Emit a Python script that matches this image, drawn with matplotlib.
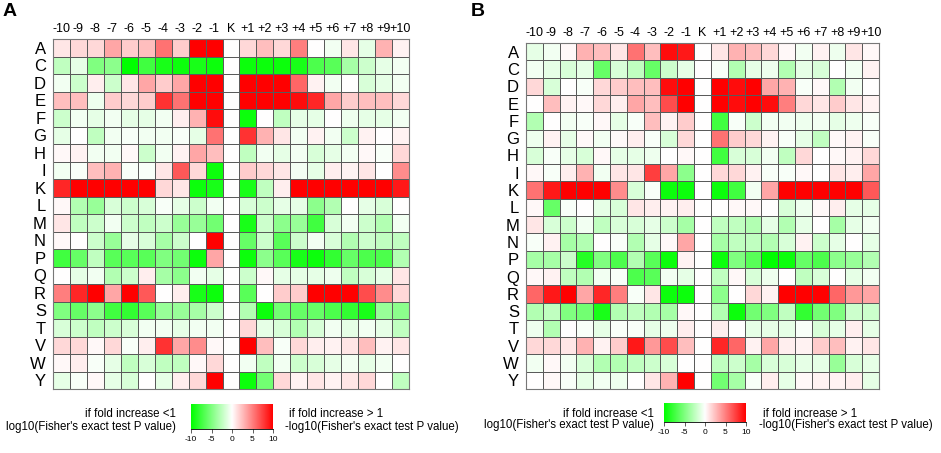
import numpy as np
import matplotlib
matplotlib.use("Agg")
import matplotlib.pyplot as plt
from matplotlib.colors import LinearSegmentedColormap

plt.rcParams['font.family'] = ['Liberation Sans', 'DejaVu Sans']
plt.rcParams['axes.unicode_minus'] = False

positions = ["-10", "-9", "-8", "-7", "-6", "-5", "-4", "-3", "-2", "-1", "K",
             "+1", "+2", "+3", "+4", "+5", "+6", "+7", "+8", "+9", "+10"]
residues = ["A", "C", "D", "E", "F", "G", "H", "I", "K", "L",
            "M", "N", "P", "Q", "R", "S", "T", "V", "W", "Y"]

# signed -log10(P): positive = enriched, negative = depleted
panel_a = [
    [1, 1.5, 1.5, 3.5, 2, 2.5, 5.5, 2, 10, 10, 0, 1.5, 2.5, 1.5, 5, 0, -0.5, 1, -1, 3, 0.5],
    [-2.5, -1, -5, -4.5, -10, -7.5, -9, -9.5, -9, -9.5, 0, -9.5, -9.5, -9.5, -9, -7, -6.5, -3.5, -2, -1, -0.5],
    [-0.5, -2, 0.7, -2, 1, 3.5, 2, 3.5, 10, 10, 0, 10, 10, 10, 6, 0.5, -0.5, 0, -1.5, -1, -0.5],
    [2.5, 2.5, -0.7, 2, 1.5, 2, 8, 5.5, 10, 10, 0, 10, 10, 10, 9.5, 8.5, 3.5, 2, 2.5, 2.5, 1.5],
    [-2, -0.5, -1, -0.5, -1, -1, -0.5, 0.7, 3, 9.5, 0, -9.5, 0, -2.5, -1, -1, 0, -0.7, -1, -1, -0.5],
    [-1, 0, -2.5, -0.5, -0.3, -0.5, -0.5, -0.3, -1, 5.5, 0, 8, 3, 1, -0.5, 0.5, -0.5, -2, 0.5, 0, 0.5],
    [0.3, 0.5, -0.5, -0.5, 0.3, -2, -0.5, 0.5, 3.5, 2.5, 0, -2.5, -0.5, -1, -0.5, -1.5, -1, -0.5, 0.3, -0.3, 1.5],
    [-0.5, -0.3, 2.5, 3, -0.3, -0.3, 1, 6.5, 1.5, -9.5, 0, 2, 1.5, 1, -0.5, -1, 0.7, 0.5, 1, 0, 4.5],
    [8.5, 10, 10, 10, 10, 10, 1.5, 1, -9.5, -9, 0, -9, -2.5, 0.7, 10, 10, 10, 10, 10, 10, 9],
    [0.3, -3, -4, -1.5, -2, -1.5, -0.3, -1, -2, -0.5, 0, -1.5, -2, -1, -1, -4.5, -3, 0, -1, -1.5, 0],
    [1, -2.5, -2, -0.5, -2, -2.5, -2, -4, -4, -5.5, 0, -9, -2, -4.5, -4, -7.5, -1.5, -0.5, -2, -3, -0.5],
    [0.3, 0, -2, -4, -1, -1.5, -3.5, -2, 0, 10, 0, -6, -2, -6.5, -2, -0.5, -1.5, -3, -2, -2.5, -2.5],
    [-7.5, -6, -2.5, -6.5, -6.5, -6.5, -5, -5.5, -9.5, 3.5, 0, -9.5, -4.5, -6.5, -9, -9.5, -8, -6, -7, -7, -3],
    [0, -1, -0.5, -3, -2, 0.7, -3.5, -4.5, -0.5, -1, 0, -2, 0.3, -1, -1, -1, -0.7, -2.5, -1.5, -1, 1],
    [5, 8.5, 10, 3.5, 10, 6.5, 0, 0.7, -9, -9.5, 0, -6.5, 0, 2, 2, 10, 10, 10, 7, 4.5, 1.5],
    [-5, -6, -4.5, -7.5, -8, -6.5, -4, -4, -3.5, -2, 0, -3, -9.5, -5.5, -6, -6, -7, -8, -9, -4, -4.5],
    [-1.5, -2, -2.5, -2, -1.5, -0.5, -0.5, -1, -0.5, -0.5, 0, 1.5, -1, -1.5, -3, -1.5, -0.5, -1, -0.5, -1, -2.5],
    [1.5, 1.5, 0.3, 1.5, -0.3, 0.7, 8, 3.5, 4.5, 0.3, 0, 10, 2.5, -0.3, 1.5, 0.7, 0.5, 1, 2.5, 0.5, 1],
    [0.3, 0.7, -0.3, -1, -2.5, -1.5, -2.5, -2.5, 0.3, 1.5, 0, -0.5, -2.5, -0.5, -2, -1.5, -1, -0.5, -1, -0.5, 0],
    [-1, -0.3, 0.3, -1, -1.5, 0, -1, 0.7, 1.5, 10, 0, -9.5, -5.5, 1.5, 0.5, 1, 0.5, 1, 1.5, 0, -2.5],
]

panel_b = [
    [-1, -0.5, 0.3, 3, 2.5, 1, 5.5, 2.5, 9.5, 9, 0, 1, 3, 2.5, 1.5, 0.3, -0.5, 0.5, -0.7, 1, 0.3],
    [-0.5, -1, -1.5, -1, -6, -1.5, -2.5, -6, -2, -1, 0, -0.3, -3, -1, -0.7, -3, -1, -1.5, 0, -0.5, 0.5],
    [1.5, -1.5, 0, -0.3, 1.5, 2, 2.5, 2.5, 9.5, 10, 0, 10, 9.5, 10, 3.5, 3, -0.3, 0.3, -3, -0.5, 0],
    [0, 2.5, 0.5, 0.3, 1.5, 0.7, 3.5, 2.5, 7, 10, 0, 10, 9.5, 10, 9.5, 5, 1.5, 1, 2, 1, 0.5],
    [-3, 0, -0.5, -0.3, 0.3, -1, -0.3, 2.5, 0.5, 2, 0, -7.5, -0.3, -2, -0.5, -0.5, -0.7, -0.5, -1, -0.7, -0.3],
    [-0.7, 0.5, -1, 0.3, -0.5, 0.3, 0.7, -0.3, -1.5, 1.5, 0, 5.5, 2, 1.5, 0.5, -0.3, -1, -2.5, 0.3, 0.5, -0.3],
    [-1.5, -0.3, -1, -1.5, 0.3, -1, -1, -0.7, 0, 0.3, 0, -7.5, -1.5, -1.5, -0.5, -2.5, 1.5, 0, 0.3, 0.5, 1.5],
    [0.3, -0.3, 0.7, 3, -0.5, 1, 1, 7.5, 3.5, -4.5, 0, 1.5, 1.5, 0.5, -0.3, -0.3, 0.3, 0, 1, 0.7, 3.5],
    [5.5, 9, 10, 10, 10, 4.5, -1.5, -0.3, -9.5, -9.5, 0, -9.5, -7.5, -0.5, 3.5, 10, 10, 10, 10, 10, 6.5],
    [0.3, -6, -0.3, 0, -1, -1.5, 1, 0.7, 0.5, 0.7, 0, 0, 0.3, 0.3, 0, -1.5, -0.7, 0.3, 0.7, -1, -1],
    [1, -1.5, -2, -0.5, -2.5, -1.5, -1.5, -1, -2, -3.5, 0, -2.5, -2.5, -3, -1, -3, -1, 0, -3.5, -1, -0.5],
    [-0.3, 0.5, -3.5, -3, 0, -0.3, -3, -1, 0.3, 3.5, 0, -3.5, -2.5, -2.5, -3, -1.5, 0.5, -2, -1, 0, -1],
    [-3.5, -3.5, -2, -8.5, -5, -7, -3, -6.5, -9.5, 0.5, 0, -9.5, -5, -6.5, -10, -9.5, -6, -7, -4.5, -4, -3],
    [0.3, 0.5, -2.5, -3, -0.5, -0.3, -7, -6.5, -0.5, -1, 0, -2.5, 0.3, -1.5, -0.7, 0, -2.5, -1.5, 0, -1, -0.5],
    [6, 9, 10, 3.5, 8.5, 5, -0.3, 1, -9.5, -9.5, 0, -4.5, 0, 1.5, 0.5, 10, 10, 10, 6, 4, 3.5],
    [-3, -2.5, -5, -5.5, -9, -3, -2.5, -3, -3.5, 0.3, 0, -3, -9.5, -5.5, -5, -2.5, -8, -5.5, -5, -2, -2],
    [-0.7, -3, 0, -0.3, -1, -0.3, -0.3, -1, -0.7, 0.7, 0, 0.7, 0, -1, -1, -1, -0.3, -1.5, -1, 0.7, -1],
    [1.5, 1.5, 1, 3, 0.5, 2, 9, 4, 7, 2.5, 0, 8.5, 6, 0.5, 3.5, 0.7, 0.5, 2, 2.5, 0.5, 1],
    [-0.5, 0.3, -0.5, -1.5, -3, -3, -2.5, -2, -1.5, 0, 0, -2.5, -2, -3.5, -1.5, -1.5, -1, -1, -4, -1.5, -1],
    [0, 0.3, -0.3, -1, -0.5, -0.7, 0, 1, 3, 10, 0, -5.5, -3.5, -0.3, 0.7, -1, 0.3, 0.5, 0.5, 0.7, -1],
]

cmap = LinearSegmentedColormap.from_list("gwr", ["#00ff00", "#ffffff", "#ff0000"])
W, H = 941, 453


def box(x0, y0, x1, y1):
    # pixel box (top-left origin) -> figure fraction
    return [x0 / W, 1 - y1 / H, (x1 - x0) / W, (y1 - y0) / H]


def heat(fig, rect, data):
    ax = fig.add_axes(rect)
    vals = np.array(data, dtype=float)
    ax.pcolormesh(vals, cmap=cmap, vmin=-10, vmax=10,
                  edgecolors="#5a5a5a", linewidth=0.6)
    ax.set_xlim(0, len(positions))
    ax.set_ylim(len(residues), 0)
    ax.xaxis.tick_top()
    ax.set_xticks(np.arange(len(positions)) + 0.5)
    ax.set_xticklabels(positions, fontsize=9)
    ax.set_yticks(np.arange(len(residues)) + 0.5)
    ax.set_yticklabels(residues, fontsize=12)
    ax.tick_params(axis="x", length=0, pad=3)
    ax.tick_params(axis="y", length=0, pad=5)
    for s in ax.spines.values():
        s.set_color("#777777")
        s.set_linewidth(0.8)
    return ax


def legend(fig, cb_rect, tx):
    cax = fig.add_axes(cb_rect)
    grad = np.linspace(-10, 10, 256).reshape(1, -1)
    cax.imshow(grad, cmap=cmap, aspect="auto", extent=[-10, 10, 0, 1])
    cax.set_yticks([])
    cax.set_xticks([-10, -5, 0, 5, 10])
    cax.tick_params(axis="x", labelsize=6, length=3, width=0.6, color="#444444", pad=2)
    for k in ["top", "left", "right"]:
        cax.spines[k].set_visible(False)
    cax.spines["bottom"].set_linewidth(0.6)
    l, r, y1, y2 = tx
    fs = 8.3
    fig.text(l / W, 1 - y1 / H, "if fold increase <1", ha="right", va="center", fontsize=fs)
    fig.text(l / W, 1 - y2 / H, "log10(Fisher's exact test P value)", ha="right", va="center", fontsize=fs)
    fig.text(r / W, 1 - y1 / H, "if fold increase > 1", ha="left", va="center", fontsize=fs)
    fig.text((r - 4) / W, 1 - y2 / H, "-log10(Fisher's exact test P value)", ha="left", va="center", fontsize=fs)


fig = plt.figure(figsize=(W / 100, H / 100), dpi=100)

heat(fig, box(53, 39, 409, 389), panel_a)
heat(fig, box(526, 43, 879, 389), panel_b)

legend(fig, box(191, 404, 273, 429), (176, 289, 414, 427))
legend(fig, box(664, 403, 746, 422), (654, 763, 414, 425))

fig.text(3 / W, 1 - 12 / H, "A", fontsize=14, fontweight="bold", va="center", ha="left")
fig.text(471 / W, 1 - 12 / H, "B", fontsize=14, fontweight="bold", va="center", ha="left")

fig.savefig("out.png", dpi=100)
